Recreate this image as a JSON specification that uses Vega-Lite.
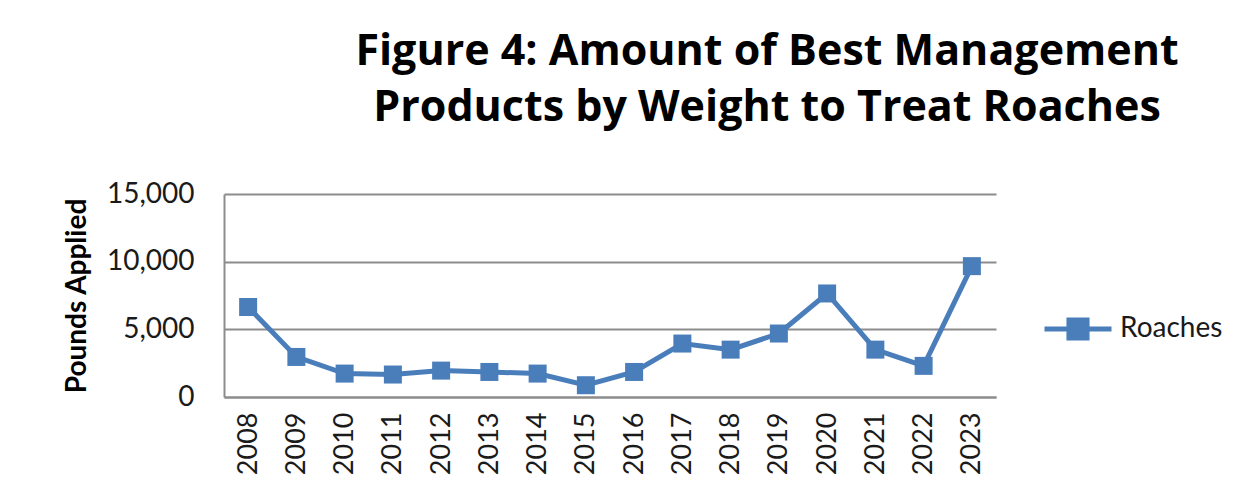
{
  "$schema": "https://vega.github.io/schema/vega-lite/v6.json",
  "autosize": "none",
  "width": 772,
  "height": 203,
  "padding": {"left": 224, "top": 194, "right": 252, "bottom": 93},
  "background": "white",
  "title": {
    "text": ["Figure 4: Amount of Best Management", "Products by Weight to Treat Roaches"],
    "font": "Open Sans",
    "fontSize": 43,
    "fontWeight": "bold",
    "color": "#000000",
    "lineHeight": 56,
    "anchor": "middle",
    "dx": 157,
    "offset": 50
  },
  "data": {
    "values": [
      {"year": "2008", "pounds": 6650, "series": "Roaches"},
      {"year": "2009", "pounds": 2960, "series": "Roaches"},
      {"year": "2010", "pounds": 1730, "series": "Roaches"},
      {"year": "2011", "pounds": 1660, "series": "Roaches"},
      {"year": "2012", "pounds": 1950, "series": "Roaches"},
      {"year": "2013", "pounds": 1850, "series": "Roaches"},
      {"year": "2014", "pounds": 1730, "series": "Roaches"},
      {"year": "2015", "pounds": 870, "series": "Roaches"},
      {"year": "2016", "pounds": 1850, "series": "Roaches"},
      {"year": "2017", "pounds": 3950, "series": "Roaches"},
      {"year": "2018", "pounds": 3500, "series": "Roaches"},
      {"year": "2019", "pounds": 4690, "series": "Roaches"},
      {"year": "2020", "pounds": 7650, "series": "Roaches"},
      {"year": "2021", "pounds": 3500, "series": "Roaches"},
      {"year": "2022", "pounds": 2300, "series": "Roaches"},
      {"year": "2023", "pounds": 9670, "series": "Roaches"}
    ]
  },
  "mark": {
    "type": "line",
    "strokeWidth": 5,
    "point": {"shape": "square", "size": 324, "filled": true, "opacity": 1}
  },
  "encoding": {
    "x": {
      "field": "year",
      "type": "ordinal",
      "scale": {"padding": 0.5},
      "axis": {
        "title": null,
        "labelAngle": -90,
        "labelFont": "Lato",
        "labelFontSize": 27,
        "labelColor": "#1a1a1a",
        "labelPadding": 15,
        "ticks": false,
        "domain": true,
        "domainColor": "#8C8C8C",
        "domainWidth": 2,
        "grid": false
      }
    },
    "y": {
      "field": "pounds",
      "type": "quantitative",
      "scale": {"domain": [0, 15000], "nice": false},
      "axis": {
        "title": "Pounds Applied",
        "titleFont": "Lato",
        "titleFontSize": 28,
        "titleFontWeight": "bold",
        "titleColor": "#000000",
        "titlePadding": 15,
        "values": [0, 5000, 10000, 15000],
        "format": ",d",
        "labelFont": "Lato",
        "labelFontSize": 28,
        "labelColor": "#1a1a1a",
        "labelPadding": 30,
        "ticks": false,
        "domain": true,
        "domainColor": "#8C8C8C",
        "domainWidth": 2,
        "grid": true,
        "gridColor": "#8C8C8C",
        "gridWidth": 2
      }
    },
    "color": {
      "field": "series",
      "type": "nominal",
      "scale": {"domain": ["Roaches"], "range": ["#4A7EBB"]},
      "legend": {
        "title": null,
        "orient": "none",
        "legendX": 818,
        "legendY": 99,
        "labelFont": "Lato",
        "labelFontSize": 28,
        "labelColor": "#1a1a1a",
        "labelOffset": 6,
        "symbolType": "M-1,0H1M-0.27,-0.27H0.27V0.27H-0.27Z",
        "symbolSize": 4489,
        "symbolStrokeWidth": 5,
        "encode": {"symbols": {"update": {"fill": {"value": "#4A7EBB"}, "stroke": {"value": "#4A7EBB"}, "strokeWidth": {"value": 5}}}}
      }
    }
  },
  "config": {"view": {"stroke": null}}
}
